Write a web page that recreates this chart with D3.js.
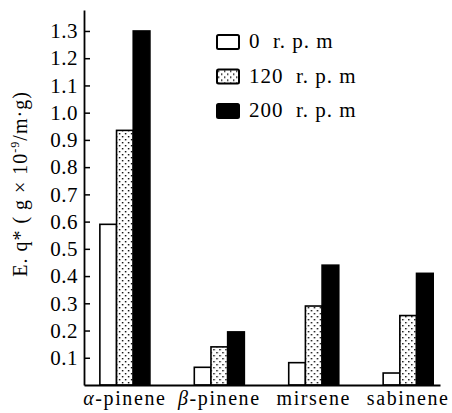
<!DOCTYPE html>
<html>
<head>
  <meta charset="utf-8">
  <script src="https://d3js.org/d3.v7.min.js"></script>
  <style>
    body { margin: 0; background: #fff; }
    svg, svg text { font-family: "Liberation Serif", "Times New Roman", "DejaVu Serif", serif; fill: #000; }
  </style>
</head>
<body>
  <div id="chart"></div>
  <script>
    // data
    var categories = ["α-pinene", "β-pinene", "mirsene", "sabinene"];
    var speeds = ["0 r. p. m", "120 r. p. m", "200 r. p. m"];
    var rpm0 = [0.59, 0.065, 0.082, 0.044];
    var rpm120 = [0.935, 0.14, 0.29, 0.255];
    var rpm200 = [1.30, 0.195, 0.44, 0.41];
    var yTicks = [0.1, 0.2, 0.3, 0.4, 0.5, 0.6, 0.7, 0.8, 0.9, 1.0, 1.1, 1.2, 1.3];

    var series = [rpm0, rpm120, rpm200];
    var fills = ["#fff", "url(#dots)", "#000"];
    var serif = "'Liberation Serif', 'Times New Roman', 'DejaVu Serif', serif";

    var svg = d3.select("#chart")
      .append("svg")
      .attr("width", 452)
      .attr("height", 413)
      .attr("font-family", serif);

    // dotted fill for the 120 rpm bars
    var pat = svg.append("defs").append("pattern")
      .attr("id", "dots")
      .attr("patternUnits", "userSpaceOnUse")
      .attr("width", 6)
      .attr("height", 6);
    pat.append("rect").attr("width", 6).attr("height", 6).attr("fill", "#fff");
    pat.append("rect").attr("x", 1).attr("y", 1).attr("width", 1.4).attr("height", 1.4).attr("fill", "#000");
    pat.append("rect").attr("x", 4).attr("y", 4).attr("width", 1.4).attr("height", 1.4).attr("fill", "#000");

    var x = d3.scaleBand()
      .domain(categories)
      .range([84, 440])
      .paddingInner(0.47)
      .paddingOuter(0.12)
      .align(0.7);

    var xSub = d3.scaleBand()
      .domain([0, 1, 2])
      .range([0, x.bandwidth()]);

    var y = d3.scaleLinear()
      .domain([0, 1.377])
      .range([385, 10]);

    // bars
    var groups = svg.selectAll("g.cat")
      .data(categories)
      .enter()
      .append("g")
      .attr("class", "cat")
      .attr("transform", function (d) { return "translate(" + x(d) + ",0)"; });

    groups.selectAll("rect")
      .data(function (d, i) { return series.map(function (s, k) { return { k: k, v: s[i] }; }); })
      .enter()
      .append("rect")
      .attr("x", function (d) { return xSub(d.k); })
      .attr("width", xSub.bandwidth())
      .attr("y", function (d) { return y(d.v); })
      .attr("height", function (d) { return y(0) - y(d.v); })
      .attr("fill", function (d) { return fills[d.k]; })
      .attr("stroke", "#000")
      .attr("stroke-width", 1.6);

    // y axis, ticks pointing inward
    var yAxis = svg.append("g")
      .attr("transform", "translate(84,0)")
      .call(d3.axisLeft(y).tickValues(yTicks).tickSizeInner(-6).tickSizeOuter(0).tickPadding(6)
        .tickFormat(d3.format(".1f")));
    yAxis.attr("font-family", serif).attr("font-size", 21);
    yAxis.select(".domain").attr("stroke-width", 1.8);
    yAxis.selectAll(".tick line").attr("stroke-width", 1.5);
    yAxis.selectAll("text").style("letter-spacing", "0.5px");

    // x axis baseline and labels
    var xAxis = svg.append("g")
      .attr("transform", "translate(0,385)")
      .call(d3.axisBottom(x).tickSize(0).tickPadding(6));
    xAxis.attr("font-family", serif).attr("font-size", 20);
    xAxis.select(".domain").attr("stroke-width", 1.8);
    xAxis.selectAll("text").style("letter-spacing", "1.6px");
    xAxis.selectAll("text").filter(function (d, i) { return i < 2; })
      .each(function () {
        var t = d3.select(this);
        var s = t.text();
        t.text(null);
        t.append("tspan").style("font-style", "italic").text(s.charAt(0));
        t.append("tspan").text(s.slice(1));
      });

    // y axis title
    var yt = svg.append("text")
      .attr("transform", "translate(27,184) rotate(-90)")
      .attr("text-anchor", "middle")
      .style("font-size", "20px")
      .style("letter-spacing", "1px")
      .style("white-space", "pre");
    yt.append("tspan").text("E. q* ( g × 10");
    yt.append("tspan").attr("dy", -8).style("font-size", "12px").text("-9");
    yt.append("tspan").attr("dy", 8).text("/m·g)");

    // legend
    var legend = svg.append("g").selectAll("g")
      .data(speeds)
      .enter()
      .append("g")
      .attr("transform", function (d, i) { return "translate(217," + (35 + i * 34.5) + ")"; });

    legend.append("rect")
      .attr("width", 22)
      .attr("height", 14)
      .attr("rx", 1.5)
      .attr("fill", function (d, i) { return fills[i]; })
      .attr("stroke", "#000")
      .attr("stroke-width", 2);

    legend.append("text")
      .attr("x", 32)
      .attr("y", 13)
      .style("font-size", "21px")
      .style("letter-spacing", "1px")
      .style("white-space", "pre")
      .text(function (d) { return d.replace(" ", "  "); });
  </script>
</body>
</html>
